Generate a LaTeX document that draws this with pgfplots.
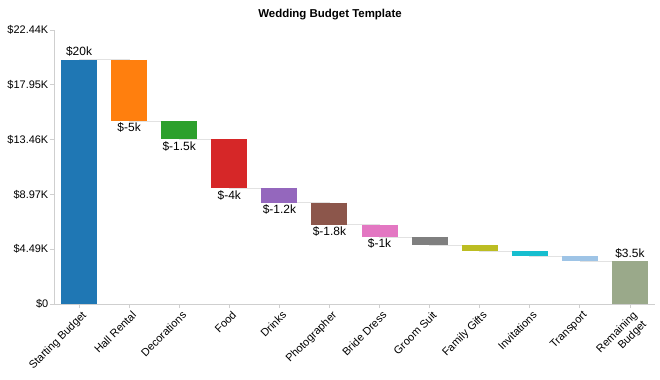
\documentclass[border=0pt]{standalone}
\usepackage{pgfplots}
\pgfplotsset{compat=1.18}
\usepackage{fontspec}
\setmainfont{Liberation Sans}
\definecolor{c0}{HTML}{1F77B4}
\definecolor{c1}{HTML}{FF7F0E}
\definecolor{c2}{HTML}{2CA02C}
\definecolor{c3}{HTML}{D62728}
\definecolor{c4}{HTML}{9467BD}
\definecolor{c5}{HTML}{8C564B}
\definecolor{c6}{HTML}{E377C2}
\definecolor{c7}{HTML}{7F7F7F}
\definecolor{c8}{HTML}{BCBD22}
\definecolor{c9}{HTML}{17BECF}
\definecolor{c10}{HTML}{9EC4E6}
\definecolor{c11}{HTML}{9AA98A}
\definecolor{axisgray}{HTML}{CFCFCF}
\definecolor{conn}{HTML}{E2E2E2}
\pgfplotsset{
  wbar/.style={draw=none, mark=none, forget plot,
    error bars/.cd, y dir=minus, y explicit, error mark=none,
    error bar style={line width=36bp, draw=#1, line cap=butt}},
}
\begin{document}
\begin{tikzpicture}
\path[use as bounding box] (0bp,0bp) rectangle (660bp,380bp);
\node[font=\bfseries\fontsize{11.5}{14}\selectfont] at (330bp,365bp) {Wedding Budget Template};
\begin{axis}[
  at={(54bp,76bp)}, anchor=south west,
  scale only axis, width=601bp, height=274bp,
  xmin=-0.5, xmax=11.5, ymin=0, ymax=22.44,
  axis x line*=bottom, axis y line*=left,
  axis line style={draw=axisgray, line width=0.8pt, -},
  xtick={0,...,11},
  xticklabels={Starting Budget, Hall Rental, Decorations, Food, Drinks, Photographer, Bride Dress, Groom Suit, Family Gifts, Invitations, Transport, {Remaining\\Budget}},
  x tick label style={rotate=45, anchor=north east, align=right, font=\fontsize{11}{13}\selectfont, inner sep=1bp, xshift=1bp, yshift=-2bp},
  ytick={0,4.488,8.976,13.464,17.952,22.44},
  yticklabels={\$0,\$4.49K,\$8.97K,\$13.46K,\$17.95K,\$22.44K},
  y tick label style={font=\fontsize{11}{13}\selectfont, inner sep=1.5bp},
  tick style={draw=axisgray, line width=0.8pt},
  major tick length=4bp, tick align=outside,
  clip=false,
]
% connectors (running total levels)
\addplot[const plot mark left, draw=conn, line width=0.6pt, mark=none, forget plot] coordinates {
  (0,20) (1,15) (2,13.5) (3,9.5) (4,8.3) (5,6.5) (6,5.5) (7,4.8) (8,4.3) (9,3.9) (10,3.5) (11,3.5)};
% bars: top value -= length
\addplot[wbar=c0] coordinates {(0,20) -= (0,20)};
\addplot[wbar=c1] coordinates {(1,20) -= (0,5)};
\addplot[wbar=c2] coordinates {(2,15) -= (0,1.5)};
\addplot[wbar=c3] coordinates {(3,13.5) -= (0,4)};
\addplot[wbar=c4] coordinates {(4,9.5) -= (0,1.2)};
\addplot[wbar=c5] coordinates {(5,8.3) -= (0,1.8)};
\addplot[wbar=c6] coordinates {(6,6.5) -= (0,1)};
\addplot[wbar=c7] coordinates {(7,5.5) -= (0,0.7)};
\addplot[wbar=c8] coordinates {(8,4.8) -= (0,0.5)};
\addplot[wbar=c9] coordinates {(9,4.3) -= (0,0.4)};
\addplot[wbar=c10] coordinates {(10,3.9) -= (0,0.4)};
\addplot[wbar=c11] coordinates {(11,3.5) -= (0,3.5)};
% value labels
\begin{scope}[every node/.style={font=\fontsize{12}{14}\selectfont, inner sep=2bp}]
\node[above, inner sep=3bp] at (axis cs:0,20) {\$20k};
\node[below] at (axis cs:1,15) {\$-5k};
\node[below] at (axis cs:2,13.5) {\$-1.5k};
\node[below] at (axis cs:3,9.5) {\$-4k};
\node[below] at (axis cs:4,8.3) {\$-1.2k};
\node[below] at (axis cs:5,6.5) {\$-1.8k};
\node[below] at (axis cs:6,5.5) {\$-1k};
\node[above, inner sep=3bp] at (axis cs:11,3.5) {\$3.5k};
\end{scope}
\end{axis}
\end{tikzpicture}
\end{document}
